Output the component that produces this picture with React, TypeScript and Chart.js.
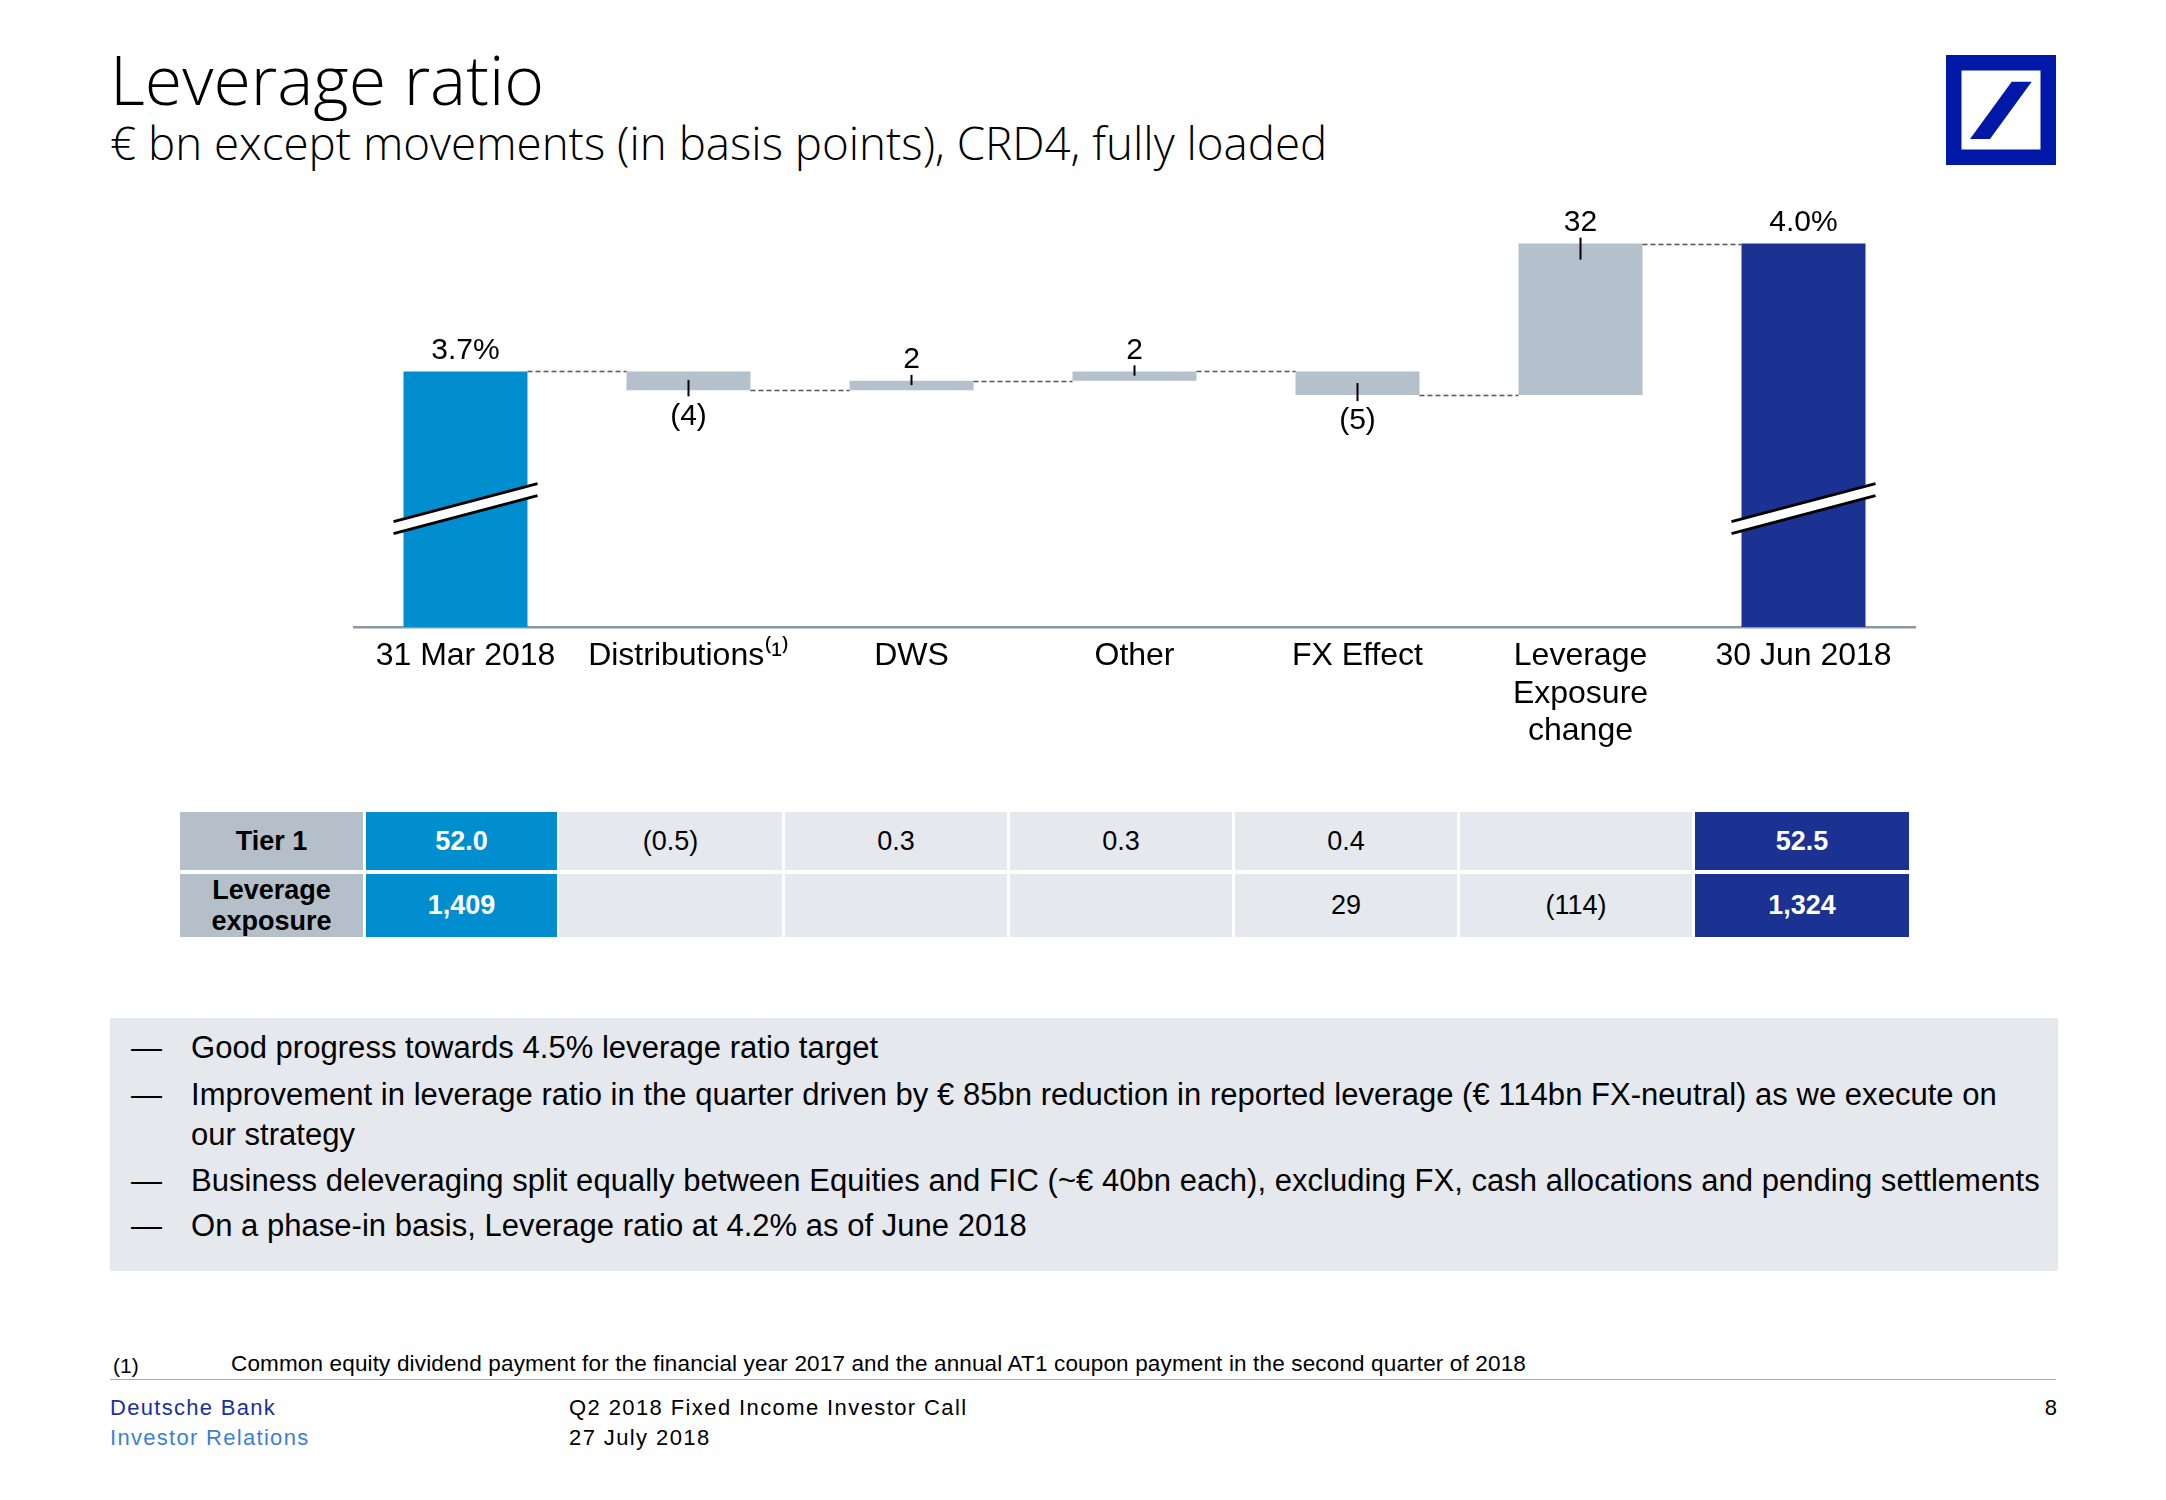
import React, { useEffect, useRef } from "react";
import { Chart, registerables } from "chart.js";

Chart.register(...registerables);

// ---------------- data ----------------
const categories: string[][] = [
  ["31 Mar 2018"],
  ["Distributions⁽¹⁾"],
  ["DWS"],
  ["Other"],
  ["FX Effect"],
  ["Leverage", "Exposure", "change"],
  ["30 Jun 2018"],
];
const startRatioBp = 372; // 3.7 %
const movementsBp = [-4, 2, 2, -5, 32];
const endRatioBp = 399; // 4.0 %
const valueLabels = ["3.7%", "(4)", "2", "2", "(5)", "32", "4.0%"];
const axisMinBp = 318;
const axisMaxBp = 408;
const breakAtBp = 343;

const tableRowLabels = [["Tier 1"], ["Leverage", "exposure"]];
const tier1Row = ["52.0", "(0.5)", "0.3", "0.3", "0.4", "", "52.5"];
const exposureRow = ["1,409", "", "", "", "29", "(114)", "1,324"];

const bulletItems: string[][] = [
  ["Good progress towards 4.5% leverage ratio target"],
  [
    "Improvement in leverage ratio in the quarter driven by € 85bn reduction in reported leverage (€ 114bn FX-neutral) as we execute on",
    "our strategy",
  ],
  [
    "Business deleveraging split equally between Equities and FIC (~€ 40bn each), excluding FX, cash allocations and pending settlements",
  ],
  ["On a phase-in basis, Leverage ratio at 4.2% as of June 2018"],
];

// ---------------- styles ----------------
const FONT = "'Liberation Sans', Arial, Helvetica, sans-serif";
const TITLE_FONT = "'Open Sans', 'Liberation Sans', sans-serif";
const LIGHT_BLUE = "#008ECF";
const NAVY = "#1B3292";
const BAR_GRAY = "#B4C0CC";
const CELL_GRAY = "#E5E8EC";
const LABEL_GRAY = "#B5BFC9";
const DB_BLUE = "#0018A8";

function Txt(props: {
  x: number;
  y: number;
  size: number;
  children: React.ReactNode;
  color?: string;
  weight?: number;
  family?: string;
  ls?: number;
  ratio?: number;
  align?: "left" | "right" | "center";
}) {
  const { x, y, size, children, color = "#000", weight = 400, family = FONT, ls = 0, ratio = 0.8465, align = "left" } = props;
  const style: React.CSSProperties = {
    position: "absolute",
    top: y - ratio * size,
    whiteSpace: "nowrap",
    fontSize: size,
    lineHeight: `${size}px`,
    fontFamily: family,
    color,
    fontWeight: weight,
    letterSpacing: ls,
  };
  if (align === "left") style.left = x;
  else if (align === "right") style.right = 2166 - x;
  else {
    style.left = x;
    style.transform = "translateX(-50%)";
  }
  return <div style={style}>{children}</div>;
}

function WaterfallChart() {
  const ref = useRef<HTMLCanvasElement | null>(null);

  useEffect(() => {
    if (!ref.current) return;

    // floating bar ranges built from start + movements
    const floating: [number, number][] = [];
    const levels: number[] = [];
    floating.push([axisMinBp, startRatioBp]);
    levels.push(startRatioBp);
    let level = startRatioBp;
    movementsBp.forEach((m) => {
      const next = level + m;
      floating.push([Math.min(level, next), Math.max(level, next)]);
      level = next;
      levels.push(level);
    });
    floating.push([axisMinBp, endRatioBp]);
    levels.push(endRatioBp);

    const colors = floating.map((_, i) => (i === 0 ? LIGHT_BLUE : i === floating.length - 1 ? NAVY : BAR_GRAY));

    const overlay = {
      id: "waterfallOverlay",
      afterDatasetsDraw(chart: any) {
        const ctx: CanvasRenderingContext2D = chart.ctx;
        const meta = chart.getDatasetMeta(0);
        const yScale = chart.scales.y;
        const bars = meta.data.map((b: any) => b.getProps(["x", "y", "base", "width"], true));
        ctx.save();

        // connectors
        ctx.setLineDash([5, 3]);
        ctx.lineWidth = 1.3;
        ctx.strokeStyle = "#555";
        for (let i = 0; i < bars.length - 1; i++) {
          const yy = Math.round(yScale.getPixelForValue(levels[i])) + 0.5;
          ctx.beginPath();
          ctx.moveTo(bars[i].x + bars[i].width / 2, yy);
          ctx.lineTo(bars[i + 1].x - bars[i + 1].width / 2, yy);
          ctx.stroke();
        }
        ctx.setLineDash([]);

        // labels + ticks
        ctx.font = `30px ${FONT}`;
        ctx.fillStyle = "#000";
        ctx.textAlign = "center";
        ctx.textBaseline = "middle";
        ctx.strokeStyle = "#000";
        ctx.lineWidth = 2;
        bars.forEach((b: any, i: number) => {
          const top = Math.min(b.y, b.base);
          const bottom = Math.max(b.y, b.base);
          const h = bottom - top;
          if (i === 0 || i === bars.length - 1) {
            ctx.fillText(valueLabels[i], b.x, top - 21);
            return;
          }
          const m = movementsBp[i - 1];
          if (m < 0) {
            ctx.beginPath();
            ctx.moveTo(b.x, bottom + 6);
            ctx.lineTo(b.x, bottom - Math.min(12, h * 0.55));
            ctx.stroke();
            ctx.fillText(valueLabels[i], b.x, bottom + 26);
          } else {
            ctx.beginPath();
            ctx.moveTo(b.x, top - 6);
            ctx.lineTo(b.x, top + Math.min(16, h * 0.45));
            ctx.stroke();
            ctx.fillText(valueLabels[i], b.x, top - 21);
          }
        });

        // axis breaks on the total bars
        const cy = yScale.getPixelForValue(breakAtBp);
        [0, bars.length - 1].forEach((i) => {
          const b = bars[i];
          const x0 = b.x - b.width / 2 - 10;
          const x1 = b.x + b.width / 2 + 10;
          const rise = 19;
          const half = 6;
          ctx.fillStyle = "#fff";
          ctx.beginPath();
          ctx.moveTo(x0, cy + rise - half);
          ctx.lineTo(x1, cy - rise - half);
          ctx.lineTo(x1, cy - rise + half);
          ctx.lineTo(x0, cy + rise + half);
          ctx.closePath();
          ctx.fill();
          ctx.strokeStyle = "#000";
          ctx.lineWidth = 3;
          ctx.beginPath();
          ctx.moveTo(x0, cy + rise - half);
          ctx.lineTo(x1, cy - rise - half);
          ctx.moveTo(x0, cy + rise + half);
          ctx.lineTo(x1, cy - rise + half);
          ctx.stroke();
        });
        ctx.restore();
      },
    };

    const chart = new Chart(ref.current, {
      type: "bar",
      data: {
        labels: categories,
        datasets: [
          {
            data: floating as any,
            backgroundColor: colors,
            borderWidth: 0,
            categoryPercentage: 1,
            barPercentage: 0.556,
          },
        ],
      },
      options: {
        responsive: false,
        animation: false,
        events: [],
        layout: { padding: { left: 354, right: 251, top: 201, bottom: 0 } },
        plugins: { legend: { display: false }, tooltip: { enabled: false }, title: { display: false } },
        scales: {
          x: {
            grid: { display: false, drawTicks: false },
            border: { display: true, color: "#8C97A1", width: 2.5 },
            ticks: {
              color: "#000",
              padding: 11,
              maxRotation: 0,
              autoSkip: false,
              font: { family: FONT, size: 32, lineHeight: 1.16 },
            },
            afterFit: (scale: any) => {
              scale.height = 173;
            },
          },
          y: { display: false, min: axisMinBp, max: axisMaxBp },
        },
      },
      plugins: [overlay],
    });
    return () => chart.destroy();
  }, []);

  return <canvas ref={ref} width={2166} height={800} style={{ position: "absolute", left: 0, top: 0 }} />;
}

const colEdges = [
  [180, 363],
  [366, 557],
  [559, 782],
  [785, 1007],
  [1010, 1232],
  [1235, 1457],
  [1460, 1692],
  [1695, 1909],
];
const rowEdges = [
  [812, 870],
  [874, 937],
];

function Table() {
  const rows = [tier1Row, exposureRow];
  const cells: React.ReactNode[] = [];
  rows.forEach((row, r) => {
    const [y0, y1] = rowEdges[r];
    cells.push(
      <div
        key={`h${r}`}
        style={{
          position: "absolute",
          left: colEdges[0][0],
          top: y0,
          width: colEdges[0][1] - colEdges[0][0],
          height: y1 - y0,
          background: LABEL_GRAY,
          display: "flex",
          flexDirection: "column",
          alignItems: "center",
          justifyContent: "center",
          fontFamily: FONT,
          fontWeight: 700,
          fontSize: 27,
          lineHeight: "31px",
          color: "#000",
        }}
      >
        {tableRowLabels[r].map((t, k) => (
          <div key={k}>{t}</div>
        ))}
      </div>
    );
    row.forEach((v, c) => {
      const [x0, x1] = colEdges[c + 1];
      const isStart = c === 0;
      const isEnd = c === row.length - 1;
      const bg = isStart ? LIGHT_BLUE : isEnd ? NAVY : CELL_GRAY;
      cells.push(
        <div
          key={`c${r}-${c}`}
          style={{
            position: "absolute",
            left: x0,
            top: y0,
            width: x1 - x0,
            height: y1 - y0,
            background: bg,
            display: "flex",
            alignItems: "center",
            justifyContent: "center",
            fontFamily: FONT,
            fontSize: 27,
            fontWeight: isStart || isEnd ? 700 : 400,
            color: isStart || isEnd ? "#fff" : "#000",
          }}
        >
          {v}
        </div>
      );
    });
  });
  return <>{cells}</>;
}

function Bullets() {
  const baselines = [[1058.5], [1105.5, 1145.5], [1191], [1236.7]];
  const out: React.ReactNode[] = [];
  bulletItems.forEach((lines, i) => {
    out.push(
      <Txt key={`d${i}`} x={131} y={baselines[i][0]} size={31}>
        —
      </Txt>
    );
    lines.forEach((l, k) => {
      out.push(
        <Txt key={`l${i}-${k}`} x={191} y={baselines[i][k]} size={31} ls={0.03}>
          {l}
        </Txt>
      );
    });
  });
  return (
    <>
      <div style={{ position: "absolute", left: 110, top: 1018, width: 1948, height: 253, background: CELL_GRAY }} />
      {out}
    </>
  );
}

function Logo() {
  return (
    <svg width={110} height={110} style={{ position: "absolute", left: 1946, top: 55 }} viewBox="0 0 110 110">
      <rect x={7.75} y={7.75} width={94.5} height={94.5} fill="none" stroke={DB_BLUE} strokeWidth={15.5} />
      <polygon points="65.7,26.7 85.7,26.7 44,84 24,84" fill={DB_BLUE} />
    </svg>
  );
}

export default function App() {
  return (
    <div
      style={{
        position: "absolute",
        left: 0,
        top: 0,
        width: 2166,
        height: 1500,
        background: "#fff",
        overflow: "hidden",
      }}
    >
      <Txt x={110} y={105} size={68} family={TITLE_FONT} weight={300} ratio={0.888}>
        Leverage ratio
      </Txt>
      <Txt x={110} y={160.5} size={45.7} family={TITLE_FONT} weight={300} ratio={0.888}>
        € bn except movements (in basis points), CRD4, fully loaded
      </Txt>
      <Logo />
      <WaterfallChart />
      <Table />
      <Bullets />
      <Txt x={113} y={1372.5} size={21}>
        (1)
      </Txt>
      <Txt x={231} y={1372.5} size={22.5} ls={0.15}>
        Common equity dividend payment for the financial year 2017 and the annual AT1 coupon payment in the second quarter of 2018
      </Txt>
      <div style={{ position: "absolute", left: 110, top: 1378.5, width: 1946, height: 1.5, background: "#A3ABB3" }} />
      <Txt x={110} y={1416} size={22} color="#1A2F9E" ls={1.3}>
        Deutsche Bank
      </Txt>
      <Txt x={110} y={1446} size={22} color="#3D7FD6" ls={1.3}>
        Investor Relations
      </Txt>
      <Txt x={569} y={1416} size={22} ls={1.4}>
        Q2 2018 Fixed Income Investor Call
      </Txt>
      <Txt x={569} y={1446} size={22} ls={1.4}>
        27 July 2018
      </Txt>
      <Txt x={2057} y={1416} size={22} align="right">
        8
      </Txt>
    </div>
  );
}
